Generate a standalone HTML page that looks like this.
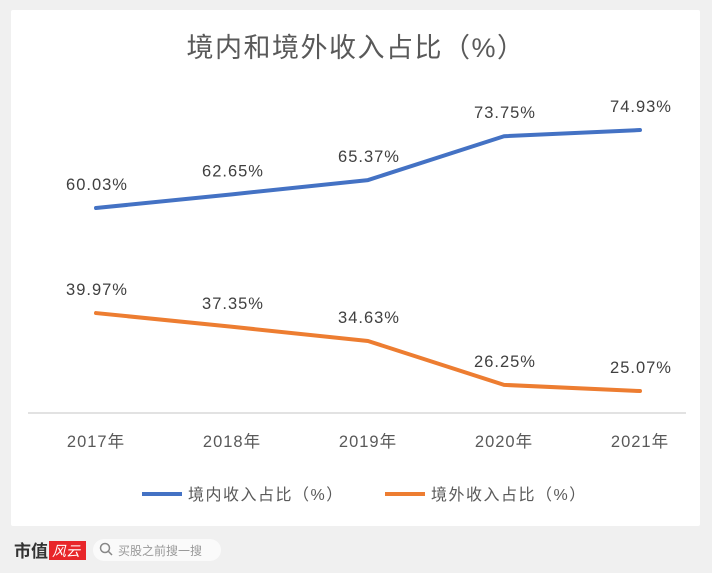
<!DOCTYPE html>
<html><head><meta charset="utf-8"><style>
body{margin:0;width:712px;height:573px;background:#f0f0f0;font-family:"Liberation Sans","Noto Sans CJK SC",sans-serif;overflow:hidden}
#card{position:absolute;left:11px;top:10px;width:689px;height:516px;background:#fff;border-radius:2px}
svg{position:absolute;left:0;top:0}
</style></head><body>
<div id="card"></div>
<svg width="712" height="573" id="chart">
<text x="356" y="57" text-anchor="middle" font-size="27" letter-spacing="1.5" fill="#595959">境内和境外收入占比（%）</text>
<line x1="28" y1="413" x2="686" y2="413" stroke="#d9d9d9" stroke-width="1.5"/>
<g id="series"></g>
<g id="xlabels"></g>
<g>
<line x1="142" y1="494" x2="182" y2="494" stroke="#4472c4" stroke-width="4"/>
<text x="188" y="500" font-size="16" letter-spacing="1.5" fill="#595959">境内收入占比（%）</text>
<line x1="385" y1="494" x2="425" y2="494" stroke="#ed7d31" stroke-width="4"/>
<text x="431" y="500" font-size="16" letter-spacing="1.5" fill="#595959">境外收入占比（%）</text>
</g>
<g>
<text x="14" y="557" font-size="17" font-weight="bold" fill="#333">市值</text>
<rect x="49" y="541" width="37" height="19" fill="#e8262a"/>
<text x="52" y="556" font-size="14" font-style="italic" fill="#fff">风云</text>
</g>
<g>
<rect x="93" y="539" width="128" height="22" rx="11" fill="#fafafa"/>
<circle cx="105" cy="548" r="4.5" fill="none" stroke="#888" stroke-width="1.5"/>
<line x1="108.5" y1="551.5" x2="112" y2="555" stroke="#888" stroke-width="1.5"/>
<text x="118" y="555" font-size="12" fill="#999">买股之前搜一搜</text>
</g>
</svg>
<script>
const categories=["2017年","2018年","2019年","2020年","2021年"];
const domestic=[60.03,62.65,65.37,73.75,74.93];
const overseas=[39.97,37.35,34.63,26.25,25.07];
const NS="http://www.w3.org/2000/svg";
function xPos(i){return 96+i*136;}
function yPos(v){return 522.3-v*5.235;}
const g=document.getElementById('series'),xl=document.getElementById('xlabels');
categories.forEach((c,i)=>{
 const t=document.createElementNS(NS,'text');
 t.setAttribute('x',xPos(i));t.setAttribute('y',447);t.setAttribute('text-anchor','middle');
 t.setAttribute('font-size','16.5');t.setAttribute('letter-spacing','1');t.setAttribute('fill','#595959');t.textContent=c;
 
 
 xl.appendChild(t);
});
[[domestic,'#4472c4','domestic-line'],[overseas,'#ed7d31','overseas-line']].forEach(([arr,col,name])=>{
 const p=document.createElementNS(NS,'polyline');
 p.setAttribute('points',arr.map((v,i)=>xPos(i)+','+yPos(v)).join(' '));
 p.setAttribute('fill','none');p.setAttribute('stroke',col);p.setAttribute('stroke-width','4');
 p.setAttribute('stroke-linejoin','round');p.setAttribute('stroke-linecap','round');
 
 
 g.appendChild(p);
 arr.forEach((v,i)=>{
  const t=document.createElementNS(NS,'text');
  t.setAttribute('x',xPos(i)+1);t.setAttribute('y',yPos(v)-18);t.setAttribute('text-anchor','middle');
  t.setAttribute('font-size','16.5');t.setAttribute('letter-spacing','1');t.setAttribute('fill','#404040');t.textContent=v.toFixed(2)+'%';
  
  
  g.appendChild(t);
 });
});
</script>
</body></html>
